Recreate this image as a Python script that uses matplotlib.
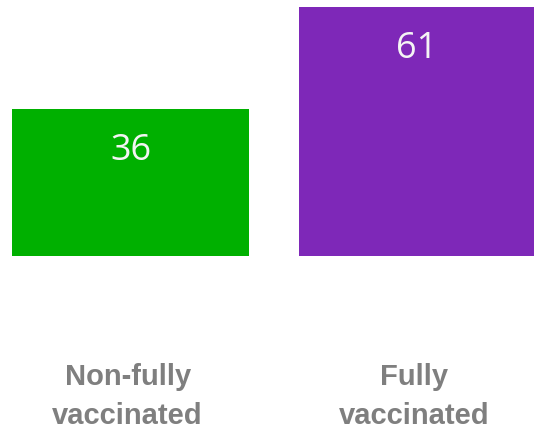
import matplotlib.pyplot as plt

categories = ['Non-fully\nvaccinated', 'Fully\nvaccinated']
values = [36, 61]
colors = ['#00B000', '#7E28B8']

fig = plt.figure(figsize=(5.34, 4.29), dpi=100)
ax = fig.add_axes([0, 0, 1, 1])

x = list(range(len(categories)))
bars = ax.bar(x, values, width=0.827, color=colors)

# value labels inside the top of each bar
for bar, v in zip(bars, values):
    ax.text(bar.get_x() + bar.get_width() / 2, v - 12.5, str(v),
            ha='center', va='baseline', color='#f4f4f4',
            fontsize=26, family='Open Sans')

# category labels well below the bars
for xi, label in zip(x, categories):
    ax.text(xi - 0.01, -34.5, label, ha='center', va='center', color='#7f7f7f',
            fontsize=21, fontweight='bold', family='Liberation Sans',
            linespacing=1.5)

ax.set_xlim(-0.4555, 1.408)
ax.set_ylim(-42.4, 62.7)
ax.axis('off')

fig.savefig('out.png', dpi=100)
